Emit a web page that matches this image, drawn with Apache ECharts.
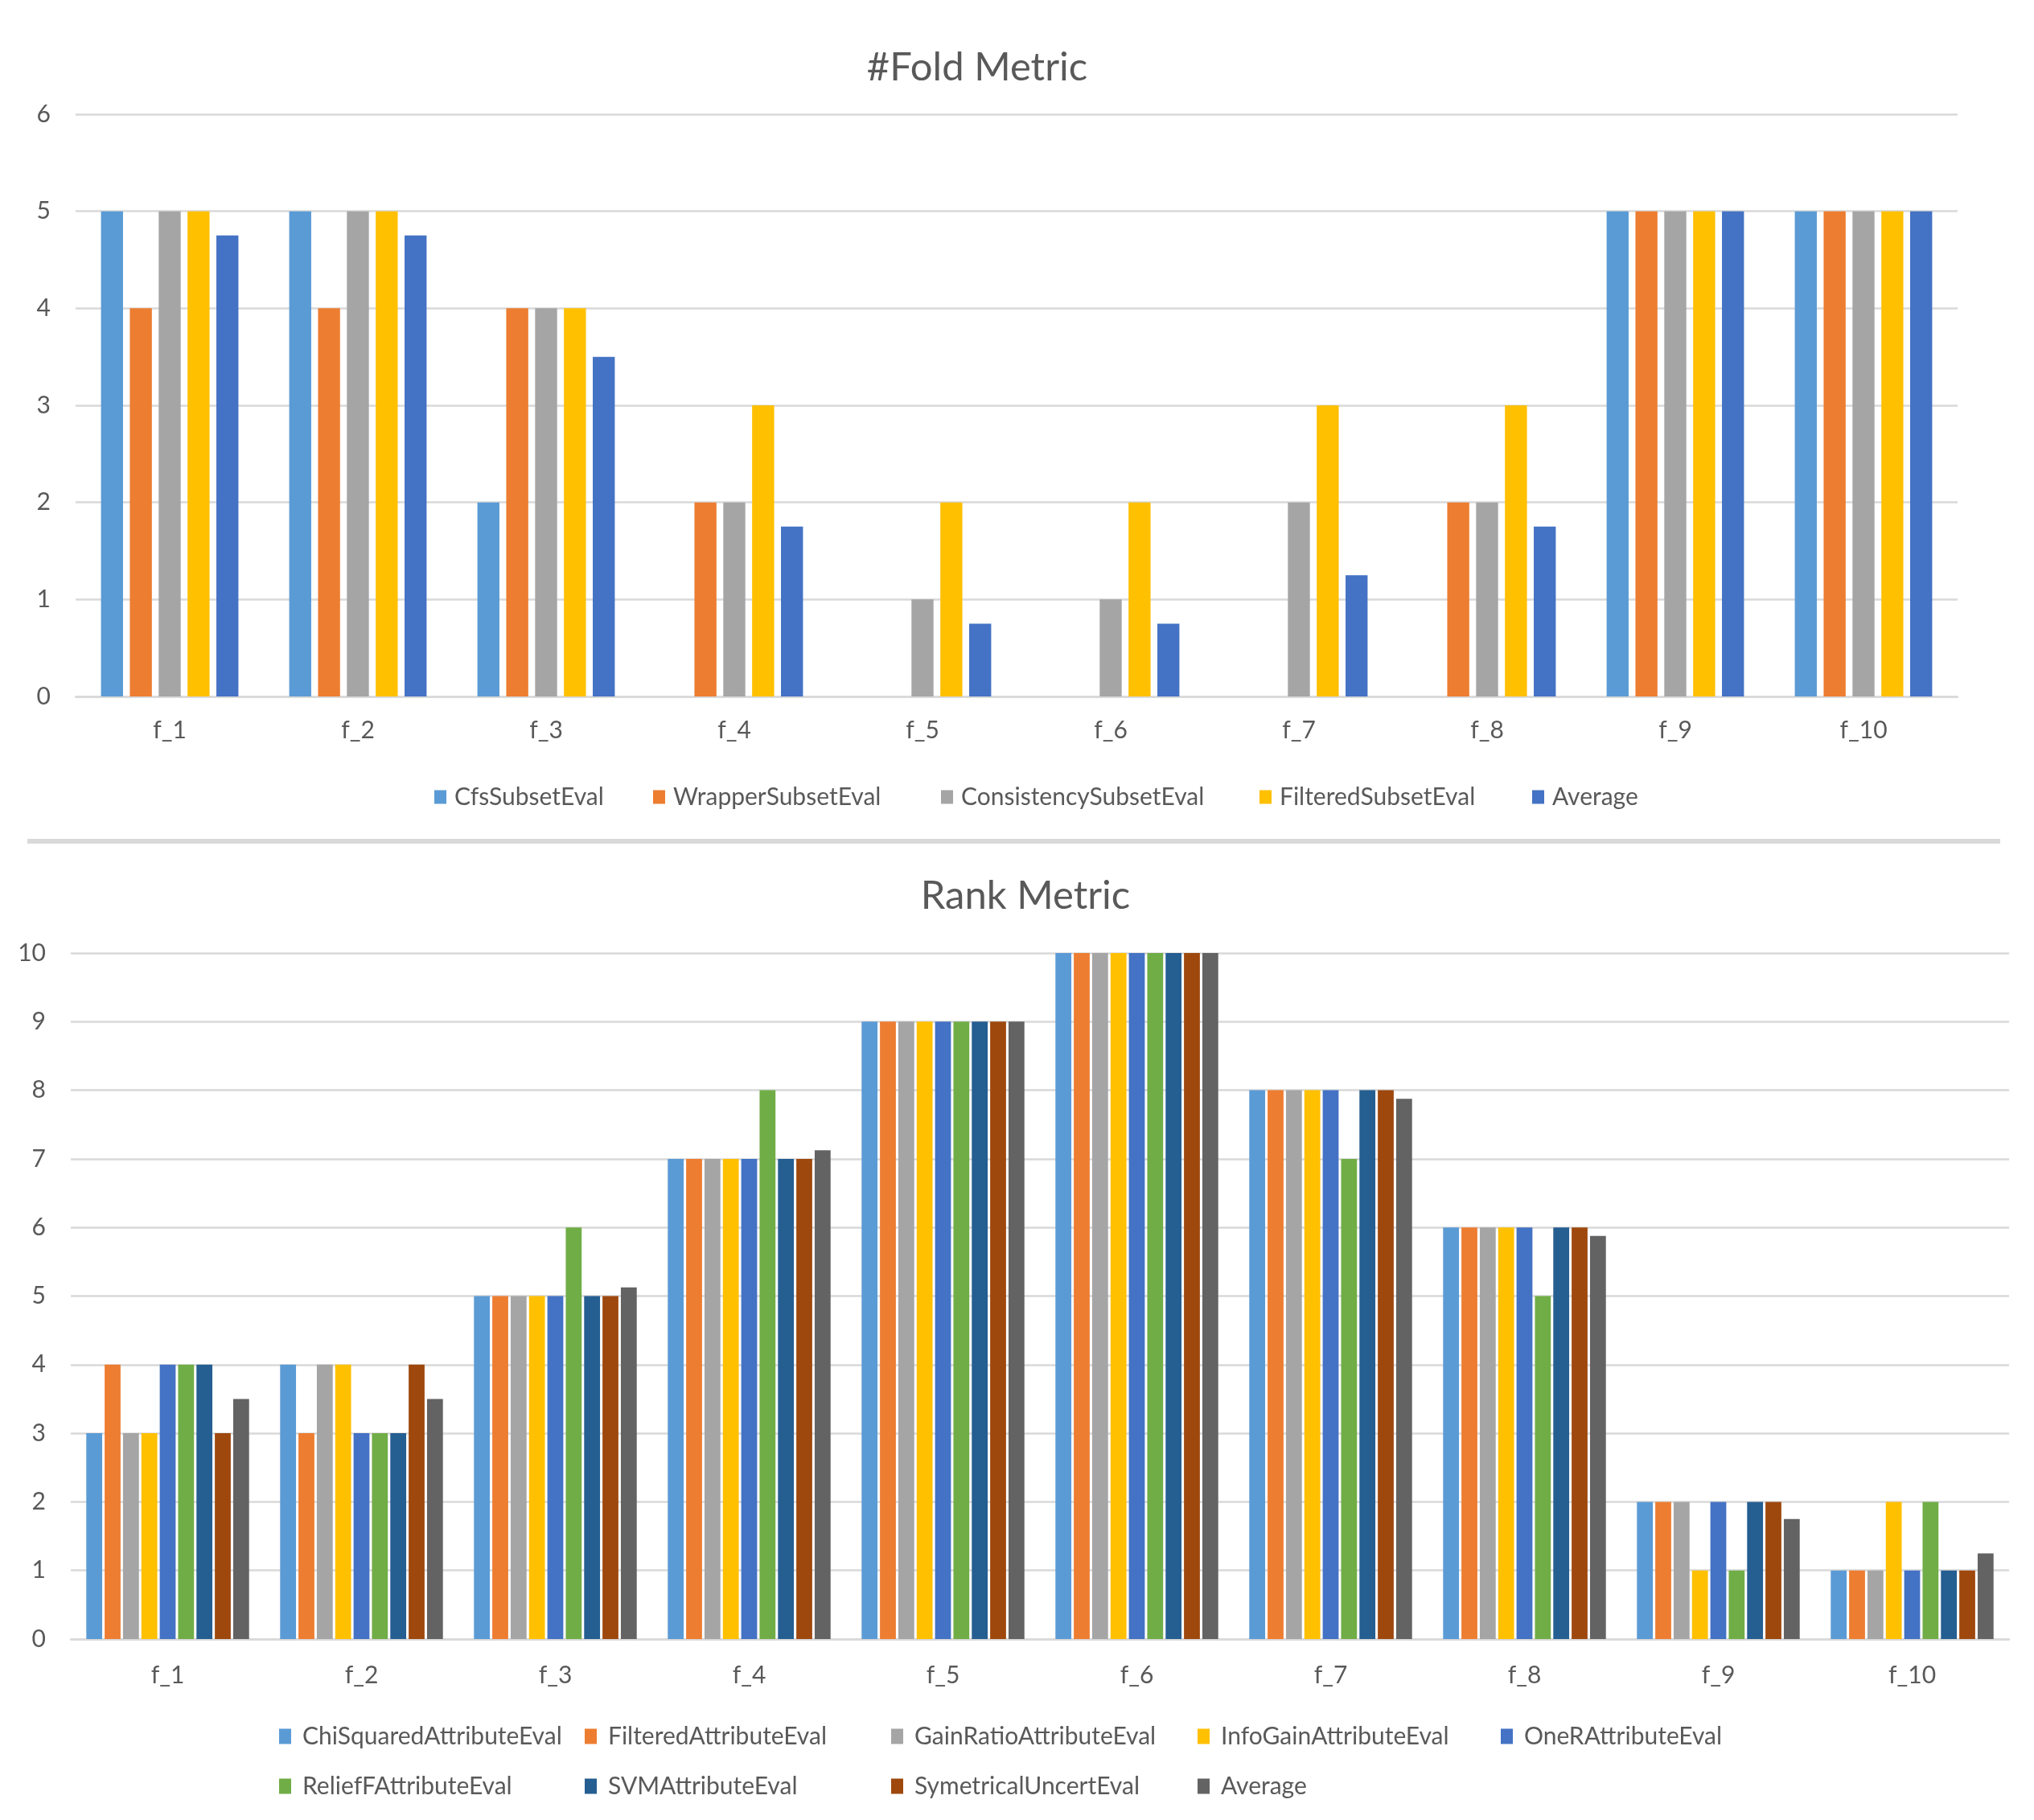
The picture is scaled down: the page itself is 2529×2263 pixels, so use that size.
<!DOCTYPE html>
<html><head><meta charset="utf-8">
<script src="https://cdn.jsdelivr.net/npm/echarts@6/dist/echarts.min.js"></script>
<style>
html,body{margin:0;padding:0;background:#fff;width:2529px;height:2263px;overflow:hidden}
.c{position:absolute;left:0;top:0;width:2529px;height:2263px}
</style></head>
<body><div id="a" class="c"></div><div id="b" class="c"></div>
<script>
// ---------- data ----------
const categories = ['f_1','f_2','f_3','f_4','f_5','f_6','f_7','f_8','f_9','f_10'];

const foldTitle = '#Fold Metric';
const foldTicks = [0,1,2,3,4,5,6];
const foldNames = ['CfsSubsetEval','WrapperSubsetEval','ConsistencySubsetEval','FilteredSubsetEval','Average'];
const cfsSubsetEval         = [5,5,2,0,0,0,0,0,5,5];
const wrapperSubsetEval     = [4,4,4,2,0,0,0,2,5,5];
const consistencySubsetEval = [5,5,4,2,1,1,2,2,5,5];
const filteredSubsetEval    = [5,5,4,3,2,2,3,3,5,5];
const foldAverage           = [4.75,4.75,3.5,1.75,0.75,0.75,1.25,1.75,5,5];

const rankTitle = 'Rank Metric';
const rankTicks = [0,1,2,3,4,5,6,7,8,9,10];
const rankNames = ['ChiSquaredAttributeEval','FilteredAttributeEval','GainRatioAttributeEval','InfoGainAttributeEval','OneRAttributeEval','ReliefFAttributeEval','SVMAttributeEval','SymetricalUncertEval','Average'];
const chiSquaredAttributeEval = [3,4,5,7,9,10,8,6,2,1];
const filteredAttributeEval   = [4,3,5,7,9,10,8,6,2,1];
const gainRatioAttributeEval  = [3,4,5,7,9,10,8,6,2,1];
const infoGainAttributeEval   = [3,4,5,7,9,10,8,6,1,2];
const oneRAttributeEval       = [4,3,5,7,9,10,8,6,2,1];
const reliefFAttributeEval    = [4,3,6,8,9,10,7,5,1,2];
const svmAttributeEval        = [4,3,5,7,9,10,8,6,2,1];
const symetricalUncertEval    = [3,4,5,7,9,10,8,6,2,1];
const rankAverage             = [3.5,3.5,5.125,7.125,9,10,7.875,5.875,1.75,1.25];

// ---------- styles ----------
const FONT = 'Lato, "Open Sans", sans-serif';
const TXT = '#595959';
const GRIDC = '#d9d9d9';
const foldColors = ['#5B9BD5','#ED7D31','#A5A5A5','#FFC000','#4472C4'];
const rankColors = ['#5B9BD5','#ED7D31','#A5A5A5','#FFC000','#4472C4','#70AD47','#255E91','#9E480E','#636363'];

function axes(gridDef, maxV, ticks, labelMargin) {
  return {
    grid: gridDef,
    xAxis: {type:'category', data:categories,
      axisLine:{lineStyle:{color:GRIDC,width:2.5}}, axisTick:{show:false},
      axisLabel:{fontFamily:FONT,fontSize:30,color:TXT,margin:labelMargin}},
    yAxis: {type:'value', min:ticks[0], max:maxV, interval:ticks[1]-ticks[0],
      axisLine:{show:false}, axisTick:{show:false},
      axisLabel:{fontFamily:FONT,fontSize:30,color:TXT,margin:31},
      splitLine:{lineStyle:{color:GRIDC,width:2.5}}}
  };
}
function legendItem(name, left, top, iw, ih, pad) {
  return {data:[name], left:left, top:top, padding:0, selectedMode:false,
    icon:'rect', itemWidth:iw, itemHeight:ih,
    textStyle:{fontFamily:FONT,fontSize:30,color:TXT,padding:[0,0,0,pad]}};
}

// ---------- top chart ----------
const foldData = [cfsSubsetEval,wrapperSubsetEval,consistencySubsetEval,filteredSubsetEval,foldAverage];
const foldLegendX = [540,812,1170,1566,1905];
const chartA = echarts.init(document.getElementById('a'), null, {renderer:'canvas'});
chartA.setOption(Object.assign({
  animation:false,
  title:{text:foldTitle,left:1210,top:79,textAlign:'center',textVerticalAlign:'middle',
    textStyle:{fontFamily:FONT,fontSize:49,fontWeight:'normal',color:TXT}},
  legend: foldNames.map((n,i)=>legendItem(n, foldLegendX[i], 976, 15, 17, 5)),
  graphic:[{type:'rect',shape:{x:34,y:1043,width:2453,height:6},style:{fill:GRIDC},silent:true}],
  series: foldNames.map((n,i)=>({name:n,type:'bar',data:foldData[i],
    itemStyle:{color:foldColors[i]}, barGap:'31%', barCategoryGap:'27%'}))
}, axes({left:94,top:142,width:2340,height:724}, foldTicks[foldTicks.length-1], foldTicks, 27)));

// ---------- bottom chart ----------
const rankData = [chiSquaredAttributeEval,filteredAttributeEval,gainRatioAttributeEval,infoGainAttributeEval,oneRAttributeEval,reliefFAttributeEval,svmAttributeEval,symetricalUncertEval,rankAverage];
const rankLegendX = [347,727,1108,1489,1866,347,727,1108,1489];
const rankLegendY = [2144,2144,2144,2144,2144,2206,2206,2206,2206];
const chartB = echarts.init(document.getElementById('b'), null, {renderer:'canvas'});
chartB.setOption(Object.assign({
  animation:false,
  title:{text:rankTitle,left:1270,top:1109,textAlign:'center',textVerticalAlign:'middle',
    textStyle:{fontFamily:FONT,fontSize:49,fontWeight:'normal',color:TXT}},
  legend: rankNames.map((n,i)=>legendItem(n, rankLegendX[i], rankLegendY[i], 15, 19, 9)),
  series: rankNames.map((n,i)=>({name:n,type:'bar',data:rankData[i],
    itemStyle:{color:rankColors[i]}, barGap:'15.5%', barCategoryGap:'16%'}))
}, axes({left:88,top:1185,width:2410,height:853}, rankTicks[rankTicks.length-1], rankTicks, 30)));
</script>
</body></html>
